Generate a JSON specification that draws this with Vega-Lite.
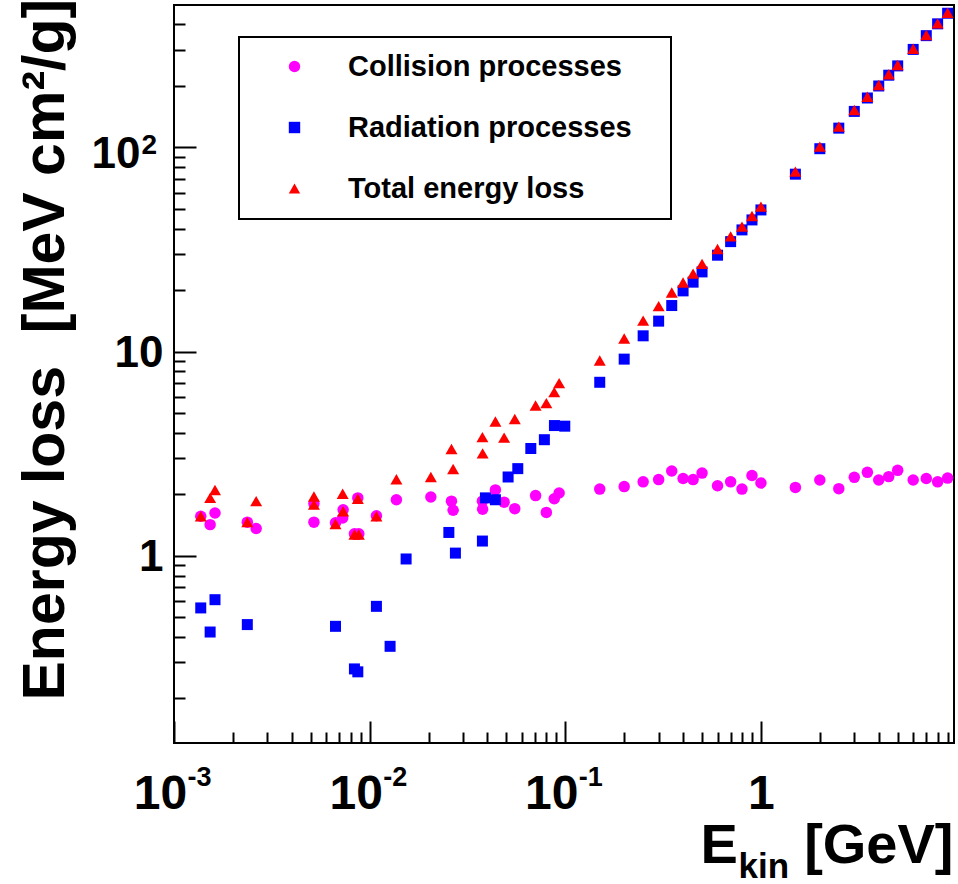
{
  "$schema": "https://vega.github.io/schema/vega-lite/v6.json",
  "width": 780,
  "height": 738,
  "autosize": "none",
  "padding": {"left": 174, "top": 5, "right": 4, "bottom": 141},
  "background": "white",
  "data": {
    "values": [
      {"E": 0.00137, "loss": 1.56, "process": "Collision processes"},
      {"E": 0.00153, "loss": 1.42, "process": "Collision processes"},
      {"E": 0.00162, "loss": 1.62, "process": "Collision processes"},
      {"E": 0.00237, "loss": 1.46, "process": "Collision processes"},
      {"E": 0.00263, "loss": 1.36, "process": "Collision processes"},
      {"E": 0.00519, "loss": 1.80, "process": "Collision processes"},
      {"E": 0.00519, "loss": 1.46, "process": "Collision processes"},
      {"E": 0.00669, "loss": 1.45, "process": "Collision processes"},
      {"E": 0.00732, "loss": 1.68, "process": "Collision processes"},
      {"E": 0.00728, "loss": 1.53, "process": "Collision processes"},
      {"E": 0.0087, "loss": 1.92, "process": "Collision processes"},
      {"E": 0.00836, "loss": 1.28, "process": "Collision processes"},
      {"E": 0.0088, "loss": 1.28, "process": "Collision processes"},
      {"E": 0.01083, "loss": 1.57, "process": "Collision processes"},
      {"E": 0.0137, "loss": 1.88, "process": "Collision processes"},
      {"E": 0.02055, "loss": 1.94, "process": "Collision processes"},
      {"E": 0.02619, "loss": 1.85, "process": "Collision processes"},
      {"E": 0.02671, "loss": 1.67, "process": "Collision processes"},
      {"E": 0.0377, "loss": 1.85, "process": "Collision processes"},
      {"E": 0.0378, "loss": 1.69, "process": "Collision processes"},
      {"E": 0.04393, "loss": 2.10, "process": "Collision processes"},
      {"E": 0.04867, "loss": 1.83, "process": "Collision processes"},
      {"E": 0.05518, "loss": 1.70, "process": "Collision processes"},
      {"E": 0.0705, "loss": 1.97, "process": "Collision processes"},
      {"E": 0.08, "loss": 1.63, "process": "Collision processes"},
      {"E": 0.0878, "loss": 1.90, "process": "Collision processes"},
      {"E": 0.093, "loss": 2.03, "process": "Collision processes"},
      {"E": 0.15, "loss": 2.12, "process": "Collision processes"},
      {"E": 0.2, "loss": 2.18, "process": "Collision processes"},
      {"E": 0.25, "loss": 2.30, "process": "Collision processes"},
      {"E": 0.3, "loss": 2.36, "process": "Collision processes"},
      {"E": 0.35, "loss": 2.60, "process": "Collision processes"},
      {"E": 0.4, "loss": 2.39, "process": "Collision processes"},
      {"E": 0.45, "loss": 2.36, "process": "Collision processes"},
      {"E": 0.5, "loss": 2.54, "process": "Collision processes"},
      {"E": 0.6, "loss": 2.20, "process": "Collision processes"},
      {"E": 0.7, "loss": 2.30, "process": "Collision processes"},
      {"E": 0.8, "loss": 2.12, "process": "Collision processes"},
      {"E": 0.9, "loss": 2.47, "process": "Collision processes"},
      {"E": 1.0, "loss": 2.27, "process": "Collision processes"},
      {"E": 1.5, "loss": 2.16, "process": "Collision processes"},
      {"E": 2, "loss": 2.35, "process": "Collision processes"},
      {"E": 2.5, "loss": 2.13, "process": "Collision processes"},
      {"E": 3, "loss": 2.42, "process": "Collision processes"},
      {"E": 3.5, "loss": 2.56, "process": "Collision processes"},
      {"E": 4, "loss": 2.35, "process": "Collision processes"},
      {"E": 4.5, "loss": 2.44, "process": "Collision processes"},
      {"E": 5, "loss": 2.62, "process": "Collision processes"},
      {"E": 6, "loss": 2.35, "process": "Collision processes"},
      {"E": 7, "loss": 2.39, "process": "Collision processes"},
      {"E": 8, "loss": 2.30, "process": "Collision processes"},
      {"E": 9, "loss": 2.40, "process": "Collision processes"},

      {"E": 0.00137, "loss": 0.555, "process": "Radiation processes"},
      {"E": 0.00153, "loss": 0.423, "process": "Radiation processes"},
      {"E": 0.00162, "loss": 0.609, "process": "Radiation processes"},
      {"E": 0.00237, "loss": 0.460, "process": "Radiation processes"},
      {"E": 0.00669, "loss": 0.451, "process": "Radiation processes"},
      {"E": 0.00836, "loss": 0.279, "process": "Radiation processes"},
      {"E": 0.0087, "loss": 0.270, "process": "Radiation processes"},
      {"E": 0.01083, "loss": 0.565, "process": "Radiation processes"},
      {"E": 0.01272, "loss": 0.360, "process": "Radiation processes"},
      {"E": 0.01536, "loss": 0.964, "process": "Radiation processes"},
      {"E": 0.0254, "loss": 1.30, "process": "Radiation processes"},
      {"E": 0.02744, "loss": 1.03, "process": "Radiation processes"},
      {"E": 0.0377, "loss": 1.18, "process": "Radiation processes"},
      {"E": 0.03906, "loss": 1.92, "process": "Radiation processes"},
      {"E": 0.04393, "loss": 1.88, "process": "Radiation processes"},
      {"E": 0.05102, "loss": 2.43, "process": "Radiation processes"},
      {"E": 0.05717, "loss": 2.67, "process": "Radiation processes"},
      {"E": 0.06664, "loss": 3.35, "process": "Radiation processes"},
      {"E": 0.07817, "loss": 3.70, "process": "Radiation processes"},
      {"E": 0.088, "loss": 4.34, "process": "Radiation processes"},
      {"E": 0.0994, "loss": 4.31, "process": "Radiation processes"},
      {"E": 0.15, "loss": 7.07, "process": "Radiation processes"},
      {"E": 0.2, "loss": 9.18, "process": "Radiation processes"},
      {"E": 0.25, "loss": 11.94, "process": "Radiation processes"},
      {"E": 0.3, "loss": 14.09, "process": "Radiation processes"},
      {"E": 0.35, "loss": 16.80, "process": "Radiation processes"},
      {"E": 0.4, "loss": 19.82, "process": "Radiation processes"},
      {"E": 0.45, "loss": 21.87, "process": "Radiation processes"},
      {"E": 0.5, "loss": 24.55, "process": "Radiation processes"},
      {"E": 0.6, "loss": 29.64, "process": "Radiation processes"},
      {"E": 0.7, "loss": 34.54, "process": "Radiation processes"},
      {"E": 0.8, "loss": 39.42, "process": "Radiation processes"},
      {"E": 0.9, "loss": 44.12, "process": "Radiation processes"},
      {"E": 1.0, "loss": 49.38, "process": "Radiation processes"},
      {"E": 1.5, "loss": 73.9, "process": "Radiation processes"},
      {"E": 2, "loss": 98.5, "process": "Radiation processes"},
      {"E": 2.5, "loss": 124.2, "process": "Radiation processes"},
      {"E": 3, "loss": 150.0, "process": "Radiation processes"},
      {"E": 3.5, "loss": 174.5, "process": "Radiation processes"},
      {"E": 4, "loss": 199.8, "process": "Radiation processes"},
      {"E": 4.5, "loss": 225.6, "process": "Radiation processes"},
      {"E": 5, "loss": 250.6, "process": "Radiation processes"},
      {"E": 6, "loss": 301.8, "process": "Radiation processes"},
      {"E": 7, "loss": 352.5, "process": "Radiation processes"},
      {"E": 8, "loss": 402.7, "process": "Radiation processes"},
      {"E": 9, "loss": 453.8, "process": "Radiation processes"},

      {"E": 0.00137, "loss": 1.56, "process": "Total energy loss"},
      {"E": 0.00153, "loss": 1.92, "process": "Total energy loss"},
      {"E": 0.00162, "loss": 2.10, "process": "Total energy loss"},
      {"E": 0.00237, "loss": 1.46, "process": "Total energy loss"},
      {"E": 0.00263, "loss": 1.85, "process": "Total energy loss"},
      {"E": 0.00519, "loss": 1.95, "process": "Total energy loss"},
      {"E": 0.00519, "loss": 1.78, "process": "Total energy loss"},
      {"E": 0.00669, "loss": 1.43, "process": "Total energy loss"},
      {"E": 0.00728, "loss": 2.01, "process": "Total energy loss"},
      {"E": 0.00732, "loss": 1.65, "process": "Total energy loss"},
      {"E": 0.0087, "loss": 1.90, "process": "Total energy loss"},
      {"E": 0.00836, "loss": 1.27, "process": "Total energy loss"},
      {"E": 0.0088, "loss": 1.27, "process": "Total energy loss"},
      {"E": 0.01083, "loss": 1.56, "process": "Total energy loss"},
      {"E": 0.0137, "loss": 2.37, "process": "Total energy loss"},
      {"E": 0.02055, "loss": 2.43, "process": "Total energy loss"},
      {"E": 0.02619, "loss": 3.33, "process": "Total energy loss"},
      {"E": 0.02671, "loss": 2.66, "process": "Total energy loss"},
      {"E": 0.0377, "loss": 3.81, "process": "Total energy loss"},
      {"E": 0.0378, "loss": 3.17, "process": "Total energy loss"},
      {"E": 0.04393, "loss": 4.54, "process": "Total energy loss"},
      {"E": 0.04867, "loss": 3.79, "process": "Total energy loss"},
      {"E": 0.05518, "loss": 4.67, "process": "Total energy loss"},
      {"E": 0.0705, "loss": 5.44, "process": "Total energy loss"},
      {"E": 0.08, "loss": 5.59, "process": "Total energy loss"},
      {"E": 0.0878, "loss": 6.33, "process": "Total energy loss"},
      {"E": 0.093, "loss": 7.00, "process": "Total energy loss"},
      {"E": 0.15, "loss": 9.04, "process": "Total energy loss"},
      {"E": 0.2, "loss": 11.58, "process": "Total energy loss"},
      {"E": 0.25, "loss": 14.18, "process": "Total energy loss"},
      {"E": 0.3, "loss": 16.68, "process": "Total energy loss"},
      {"E": 0.35, "loss": 19.45, "process": "Total energy loss"},
      {"E": 0.4, "loss": 21.77, "process": "Total energy loss"},
      {"E": 0.45, "loss": 24.09, "process": "Total energy loss"},
      {"E": 0.5, "loss": 26.87, "process": "Total energy loss"},
      {"E": 0.6, "loss": 31.76, "process": "Total energy loss"},
      {"E": 0.7, "loss": 36.64, "process": "Total energy loss"},
      {"E": 0.8, "loss": 40.91, "process": "Total energy loss"},
      {"E": 0.9, "loss": 46.15, "process": "Total energy loss"},
      {"E": 1.0, "loss": 51.26, "process": "Total energy loss"},
      {"E": 1.5, "loss": 76.05, "process": "Total energy loss"},
      {"E": 2, "loss": 100.8, "process": "Total energy loss"},
      {"E": 2.5, "loss": 126.3, "process": "Total energy loss"},
      {"E": 3, "loss": 152.4, "process": "Total energy loss"},
      {"E": 3.5, "loss": 177.1, "process": "Total energy loss"},
      {"E": 4, "loss": 202.1, "process": "Total energy loss"},
      {"E": 4.5, "loss": 228.0, "process": "Total energy loss"},
      {"E": 5, "loss": 253.2, "process": "Total energy loss"},
      {"E": 6, "loss": 304.1, "process": "Total energy loss"},
      {"E": 7, "loss": 354.9, "process": "Total energy loss"},
      {"E": 8, "loss": 405.0, "process": "Total energy loss"},
      {"E": 9, "loss": 456.2, "process": "Total energy loss"}
    ]
  },
  "encoding": {
    "color": {
      "field": "process",
      "type": "nominal",
      "scale": {
        "domain": ["Collision processes", "Radiation processes", "Total energy loss"],
        "range": ["#ff00ff", "#0000ff", "#ff0000"]
      },
      "legend": {
        "title": null,
        "orient": "none",
        "legendX": 65,
        "legendY": 32,
        "padding": 15,
        "strokeColor": "black",
        "rowPadding": 31,
        "symbolOffset": 26,
        "labelOffset": 39,
        "labelLimit": 600,
        "labelExpr": "datum.label + '\u00a0\u00a0\u00a0\u200b'",
        "labelFont": "Liberation Sans",
        "labelFontSize": 29,
        "labelFontWeight": "bold",
        "labelColor": "black",
        "symbolSize": 130,
        "symbolStrokeWidth": 0
      }
    },
    "shape": {
      "field": "process",
      "type": "nominal",
      "scale": {
        "domain": ["Collision processes", "Radiation processes", "Total energy loss"],
        "range": ["circle", "square", "triangle-up"]
      }
    }
  },
  "resolve": {"axis": {"x": "independent", "y": "independent"}},
  "layer": [
    {
      "transform": [{"filter": "datum.process == 'Collision processes'"}],
      "mark": {"type": "point", "filled": true, "opacity": 1, "size": 132},
      "encoding": {
        "x": {
          "field": "E",
          "type": "quantitative",
          "scale": {"type": "log", "domain": [0.001, 9.7], "nice": false},
          "axis": {
            "orient": "bottom",
            "values": [0.001, 0.01, 0.1, 1],
            "ticks": false,
            "domain": false,
            "labelExpr": "datum.value >= 1 ? '1' : '10'",
            "labelFontSize": 48,
            "labelAlign": "center",
            "labelBaseline": "alphabetic",
            "labelPadding": 65,
            "labelOffset": {"condition": {"test": "datum.value >= 1", "value": 0}, "value": -14},
            "title": "[GeV]",
            "titleFontSize": 56,
            "titleX": 779,
            "titleY": 119,
            "titleAlign": "right",
            "titleBaseline": "alphabetic"
          }
        },
        "y": {
          "field": "loss",
          "type": "quantitative",
          "scale": {"type": "log", "domain": [0.121, 498], "nice": false},
          "axis": {
            "orient": "left",
            "values": [1, 10, 100],
            "ticks": false,
            "domain": false,
            "labelExpr": "datum.value < 5 ? '1' : '10'",
            "labelFontSize": 44,
            "labelAlign": "right",
            "labelBaseline": "middle",
            "labelPadding": {"condition": {"test": "datum.value > 50", "value": 34}, "value": 11},
            "labelOffset": {"condition": {"test": "datum.value > 50", "value": 7}, "value": 2},
            "title": "Energy loss\u00a0\u00a0[MeV cm²/g]",
            "titleFontSize": 59,
            "titleAngle": -90,
            "titleX": -111,
            "titleY": 695,
            "titleAlign": "left",
            "titleBaseline": "alphabetic"
          }
        }
      }
    },
    {
      "transform": [{"filter": "datum.process == 'Radiation processes'"}],
      "mark": {"type": "point", "filled": true, "opacity": 1, "size": 121},
      "encoding": {
        "x": {
          "field": "E",
          "type": "quantitative",
          "axis": {
            "orient": "bottom",
            "values": [0.001, 0.002, 0.003, 0.004, 0.005, 0.006, 0.007, 0.008, 0.009, 0.01, 0.02, 0.03, 0.04, 0.05, 0.06, 0.07, 0.08, 0.09, 0.1, 0.2, 0.3, 0.4, 0.5, 0.6, 0.7, 0.8, 0.9, 1, 2, 3, 4, 5, 6, 7, 8, 9],
            "ticks": true,
            "tickSize": {"condition": {"test": "datum.value == 0.001 || datum.value == 0.01 || datum.value == 0.1 || datum.value == 1", "value": -22}, "value": -11},
            "labels": false,
            "domain": false,
            "title": "E",
            "titleFontSize": 56,
            "titleX": 526,
            "titleY": 119,
            "titleAlign": "left",
            "titleBaseline": "alphabetic"
          }
        },
        "y": {
          "field": "loss",
          "type": "quantitative",
          "axis": {
            "orient": "left",
            "values": [0.2, 0.3, 0.4, 0.5, 0.6, 0.7, 0.8, 0.9, 1, 2, 3, 4, 5, 6, 7, 8, 9, 10, 20, 30, 40, 50, 60, 70, 80, 90, 100, 200, 300, 400],
            "ticks": true,
            "tickSize": {"condition": {"test": "datum.value == 1 || datum.value == 10 || datum.value == 100", "value": -22}, "value": -11},
            "labels": false,
            "domain": false,
            "title": null
          }
        }
      }
    },
    {
      "transform": [{"filter": "datum.process == 'Total energy loss'"}],
      "mark": {"type": "point", "filled": true, "opacity": 1, "size": 144},
      "encoding": {
        "x": {
          "field": "E",
          "type": "quantitative",
          "axis": {
            "orient": "bottom",
            "values": [0.001, 0.01, 0.1],
            "ticks": false,
            "domain": false,
            "labelExpr": "datum.value < 0.005 ? '-3' : datum.value < 0.05 ? '-2' : '-1'",
            "labelFontSize": 27,
            "labelAlign": "left",
            "labelBaseline": "alphabetic",
            "labelPadding": 42,
            "labelOffset": 13,
            "title": "kin",
            "titleFontSize": 35,
            "titleX": 564,
            "titleY": 134,
            "titleAlign": "left",
            "titleBaseline": "alphabetic"
          }
        },
        "y": {
          "field": "loss",
          "type": "quantitative",
          "axis": {
            "orient": "left",
            "values": [100],
            "ticks": false,
            "domain": false,
            "labelExpr": "'2'",
            "labelFontSize": 28,
            "labelAlign": "left",
            "labelBaseline": "alphabetic",
            "labelPadding": 33,
            "labelOffset": 6,
            "title": null
          }
        }
      }
    }
  ],
  "config": {
    "font": "Liberation Sans",
    "view": {"stroke": "black", "strokeWidth": 2},
    "axis": {
      "grid": false,
      "labelFont": "Liberation Sans",
      "labelFontWeight": "bold",
      "labelColor": "black",
      "titleFont": "Liberation Sans",
      "titleFontWeight": "bold",
      "titleColor": "black",
      "tickColor": "black",
      "tickWidth": 2,
      "labelFlush": false,
      "labelOverlap": false,
      "labelBound": false
    },
    "legend": {"strokeWidth": 2}
  }
}
